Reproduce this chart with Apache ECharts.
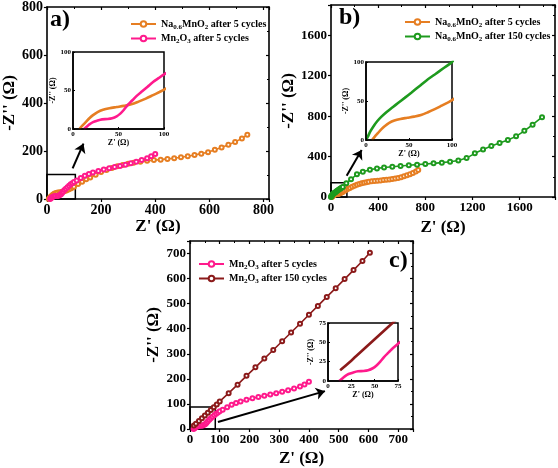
<!DOCTYPE html>
<html>
<head>
<meta charset="utf-8">
<script src="https://cdn.jsdelivr.net/npm/echarts@6/dist/echarts.min.js"></script>
<style>
html,body{margin:0;padding:0;background:#fff;}
#chart{width:558px;height:468px;}
</style>
</head>
<body>
<div id="chart"></div>
<script>
// ---------- DATA ----------
// Na0.6MnO2 after 5 cycles (orange)
const orangeX = [7,10,14,18,22,27,33,40,48,56,64,72,80,88,95,100,115,130,145,160,180,200,220,240,260,280,300,320,345,370,395,420,445,470,495,520,545,570,595,620,645,670,695,720,740];
const orangeY = [0,4,9,14,18,22,25,27,28.5,30,32,35.5,39.5,44,48,51,62,72,82,90,101,112,121,129,136,142,147,151,155,159,162,164,167,170,174,178,183,189,195,205,215,226,238,252,268];
// Mn2O3 after 5 cycles (pink)
const pinkX = [12,15,18,22,27,32,38,43,48,52,56,60,65,70,76,82,88,94,100,110,125,140,155,170,190,210,230,250,270,290,310,330,350,370,385,400];
const pinkY = [0,3,6,9,11,12.5,13,14,16.5,20,25,31,37,43,49,55,61,66,71,77,87,97,104,110,117,123,128,133,138,143,149,155,162,170,178,188];
// Na0.6MnO2 after 150 cycles (green)
const greenX = [0,2,5,9,13,18,24,31,38,45,53,62,71,80,90,100,130,170,220,270,330,390,450,520,590,660,730,800,870,940,1010,1080,1150,1220,1290,1360,1430,1500,1570,1640,1710,1790];
const greenY = [0,4,11,18,24,30,36,42,48,54,61,69,77,84,92,100,135,175,225,250,270,283,292,300,307,314,320,326,333,340,349,362,385,432,470,505,535,565,600,655,715,790];
// Mn2O3 after 150 cycles (brown)
const brownX = [13,20,30,40,50,60,70,80,90,100,130,160,190,220,250,280,310,340,370,400,430,460,490,520,550,580,605];
const brownY = [14,21,32,43,54,65,76,87,98,110,143,177,212,246,281,315,350,385,420,456,491,527,562,598,634,670,703];

// axis tick values
const aTicks = {xMax: 820, yMax: 800, step: 200};
const bTicks = {xMax: 1900, yMax: 1900, step: 400};
const cTicks = {xMax: 750, yMax: 750, step: 100};

const NAME_O = 'Na0.6MnO2 after 5 cycles';
const NAME_P = 'Mn2O3 after 5 cycles';
const NAME_G = 'Na0.6MnO2 after 150 cycles';
const NAME_B = 'Mn2O3 after 150 cycles';

const C_O = '#E67E22', C_P = '#FF1A8C', C_G = '#1E9A1E', C_B = '#8B1A1A';
const FONT = '"Liberation Serif","Times New Roman",serif';

function pairs(xs, ys){ return xs.map((x,i)=>[x, ys[i]]); }
function stepFmt(step){ return v => (Math.abs(v % step) < 1e-9 ? String(v) : ''); }

const legendRich = {
  sub: {fontSize: 7, fontWeight: 'bold', fontFamily: FONT, verticalAlign: 'bottom', padding: [6,0,0,0], color:'#000'}
};
function legendFmt(name){
  return name.replace('Na0.6MnO2', 'Na{sub|0.6}MnO{sub|2}').replace('Mn2O3', 'Mn{sub|2}O{sub|3}');
}

const grids = [
  {left: 44, top: 5, width: 225, height: 194},   // a
  {left: 331, top: 5, width: 224, height: 192},  // b
  {left: 190, top: 241, width: 223, height: 189},// c
  {left: 73, top: 52, width: 91, height: 77, show: true, borderColor: '#000', borderWidth: 1.5, backgroundColor: '#fff', z: 10},  // a inset
  {left: 366, top: 62, width: 86, height: 78, show: true, borderColor: '#000', borderWidth: 1.5, backgroundColor: '#fff', z: 10}, // b inset
  {left: 328, top: 323, width: 70, height: 58, show: true, borderColor: '#000', borderWidth: 1.5, backgroundColor: '#fff', z: 10}  // c inset
];

function mainBottom(gi, max, step, fs, nameGap){
  return {type:'value', gridIndex: gi, min: 0, max: max, interval: step, position:'bottom',
    name: "Z' (Ω)", nameLocation: 'middle', nameGap: nameGap,
    nameTextStyle: {fontFamily: FONT, fontWeight: 'bold', fontSize: 17, color:'#000'},
    axisLine: {show: true, onZero: false, lineStyle: {color:'#000', width: 1.6}},
    axisTick: {show: true, inside: false, length: 3, lineStyle: {color:'#000', width: 1.2}},
    axisLabel: {fontFamily: FONT, fontWeight:'bold', fontSize: fs, color:'#000', margin: 4, formatter: stepFmt(step)},
    splitLine: {show: false}};
}
function mainTop(gi, max, step){
  return {type:'value', gridIndex: gi, min: 0, max: max, interval: step, position:'top',
    axisLine: {show: true, onZero: false, lineStyle: {color:'#000', width: 1.6}},
    axisTick: {show: true, inside: true, length: 3, lineStyle: {color:'#000', width: 1.2}},
    minorTick: {show: true, splitNumber: 2, length: 2, lineStyle:{color:'#000', width:1}},
    axisLabel: {show: false}, splitLine: {show: false}};
}
function mainLeft(gi, max, step, fs, nameGap){
  return {type:'value', gridIndex: gi, min: 0, max: max, interval: step, position:'left',
    name: "-Z'' (Ω)", nameLocation: 'middle', nameGap: nameGap, nameRotate: 90,
    nameTextStyle: {fontFamily: FONT, fontWeight: 'bold', fontSize: 17, color:'#000'},
    axisLine: {show: true, onZero: false, lineStyle: {color:'#000', width: 1.6}},
    axisTick: {show: true, inside: false, length: 3, lineStyle: {color:'#000', width: 1.2}},
    axisLabel: {fontFamily: FONT, fontWeight:'bold', fontSize: fs, color:'#000', margin: 4, formatter: stepFmt(step)},
    splitLine: {show: false}};
}
function mainRight(gi, max, step){
  return {type:'value', gridIndex: gi, min: 0, max: max, interval: step, position:'right',
    axisLine: {show: true, onZero: false, lineStyle: {color:'#000', width: 1.6}},
    axisTick: {show: true, inside: true, length: 3, lineStyle: {color:'#000', width: 1.2}},
    minorTick: {show: true, splitNumber: 2, length: 2, lineStyle:{color:'#000', width:1}},
    axisLabel: {show: false}, splitLine: {show: false}};
}
function insetAxis(dim, gi, max, step, nameGap){
  const isX = dim === 'x';
  return {type:'value', gridIndex: gi, min: 0, max: max, interval: step, z: 12,
    name: isX ? "Z' (Ω)" : "-Z'' (Ω)", nameLocation: 'middle', nameGap: nameGap, nameRotate: isX ? 0 : 90,
    nameTextStyle: {fontFamily: FONT, fontWeight: 'bold', fontSize: 8, color:'#000'},
    axisLine: {show: true, onZero: false, lineStyle: {color:'#000', width: 1.5}},
    axisTick: {show: true, inside: true, length: 2, lineStyle: {color:'#000', width: 1}},
    axisLabel: {fontFamily: FONT, fontWeight:'bold', fontSize: 7, color:'#000', margin: 2},
    splitLine: {show: false}};
}

const xAxes = [
  mainBottom(0, aTicks.xMax, aTicks.step, 14, 19), mainTop(0, aTicks.xMax, aTicks.step),
  mainBottom(1, bTicks.xMax, bTicks.step, 13, 22), mainTop(1, bTicks.xMax, bTicks.step),
  mainBottom(2, cTicks.xMax, cTicks.step, 13, 21), mainTop(2, cTicks.xMax, cTicks.step),
  insetAxis('x', 3, 100, 50, 10), insetAxis('x', 4, 100, 50, 9), insetAxis('x', 5, 75, 25, 8)
];
const yAxes = [
  mainLeft(0, aTicks.yMax, aTicks.step, 14, 25), mainRight(0, aTicks.yMax, aTicks.step),
  mainLeft(1, bTicks.yMax, bTicks.step, 13, 30), mainRight(1, bTicks.yMax, bTicks.step),
  mainLeft(2, cTicks.yMax, cTicks.step, 13, 28), mainRight(2, cTicks.yMax, cTicks.step),
  insetAxis('y', 3, 100, 50, 12), insetAxis('y', 4, 100, 50, 12), insetAxis('y', 5, 75, 25, 9)
];

function mainSeries(name, color, xs, ys, ax, extra){
  return Object.assign({
    type: 'line', name: name, xAxisIndex: ax, yAxisIndex: ax, data: pairs(xs, ys),
    symbol: 'emptyCircle', symbolSize: 4, showSymbol: true, z: 3,
    lineStyle: {color: color, width: 1.6},
    itemStyle: {color: color, borderWidth: 1},
    animation: false, silent: true
  }, extra || {});
}
function insetSeries(name, color, xs, ys, ax){
  return {type: 'line', name: name, xAxisIndex: ax, yAxisIndex: ax, data: pairs(xs, ys),
    symbol: 'none', smooth: 0.3, clip: true, z: 11,
    lineStyle: {color: color, width: 2.6}, itemStyle: {color: color},
    animation: false, silent: true};
}
function boxAndArrow(box, from, to){
  return {
    markArea: {silent: true, itemStyle: {color: 'rgba(0,0,0,0)', borderColor: '#000', borderWidth: 1.5},
      data: [[{coord: [0,0]}, {coord: box}]]},
    markLine: {silent: true, symbol: ['none','arrow'], symbolSize: 9, label: {show: false},
      lineStyle: {color: '#000', width: 2, type: 'solid'},
      data: [[{coord: from}, {coord: to}]]}
  };
}

const series = [
  mainSeries(NAME_O, C_O, orangeX, orangeY, 0, boxAndArrow([105, 102], [95, 128], [135, 231])),
  mainSeries(NAME_P, C_P, pinkX, pinkY, 0),
  mainSeries(NAME_O, C_O, orangeX, orangeY, 2, boxAndArrow([135, 140], [133, 211], [260, 465])),
  mainSeries(NAME_G, C_G, greenX, greenY, 2),
  mainSeries(NAME_P, C_P, pinkX, pinkY, 4, boxAndArrow([85, 88], [94, 28], [454, 151])),
  mainSeries(NAME_B, C_B, brownX, brownY, 4),
  insetSeries(NAME_O, C_O, orangeX, orangeY, 6),
  insetSeries(NAME_P, C_P, pinkX, pinkY, 6),
  insetSeries(NAME_O, C_O, orangeX, orangeY, 7),
  insetSeries(NAME_G, C_G, greenX, greenY, 7),
  insetSeries(NAME_P, C_P, pinkX, pinkY, 8),
  insetSeries(NAME_B, C_B, brownX, brownY, 8)
];

function legend(names, left, top){
  return {show: true, orient: 'vertical', left: left, top: top, itemGap: 3, itemWidth: 25, itemHeight: 7,
    selectedMode: false, data: names, formatter: legendFmt,
    textStyle: {fontFamily: FONT, fontWeight: 'bold', fontSize: 10, color: '#000', rich: legendRich}};
}

const option = {
  backgroundColor: '#fff',
  animation: false,
  grid: grids,
  xAxis: xAxes,
  yAxis: yAxes,
  legend: [
    legend([NAME_O, NAME_P], 125, 14),
    legend([NAME_O, NAME_G], 399, 12),
    legend([NAME_P, NAME_B], 193, 254)
  ],
  graphic: [
    {type: 'text', left: 50, top: 8, style: {text: 'a)', font: 'bold 24px ' + FONT, fill: '#000'}},
    {type: 'text', left: 339, top: 6, style: {text: 'b)', font: 'bold 24px ' + FONT, fill: '#000'}},
    {type: 'text', left: 389, top: 249, style: {text: 'c)', font: 'bold 24px ' + FONT, fill: '#000'}}
  ],
  series: series
};

const chart = echarts.init(document.getElementById('chart'), null, {renderer: 'canvas'});
chart.setOption(option);
</script>
</body>
</html>
